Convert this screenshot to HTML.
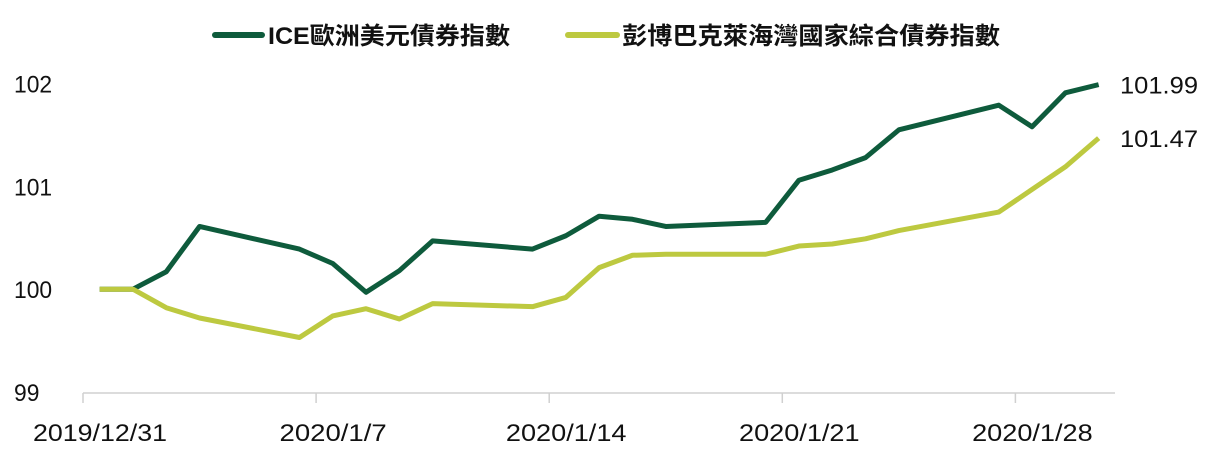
<!DOCTYPE html>
<html><head><meta charset="utf-8"><style>
body{margin:0;background:#fff;}
svg{display:block;font-family:"Liberation Sans","Noto Sans CJK TC",sans-serif;}
</style></head><body>
<svg id="chart" width="1212" height="454">
  <g>
    <line x1="215" y1="35" x2="262" y2="35" stroke="#0e5b3c" stroke-width="6" stroke-linecap="round"/>
    <text x="268" y="44" font-size="24" font-weight="bold" fill="#111" textLength="242" lengthAdjust="spacingAndGlyphs">ICE歐洲美元債券指數</text>
    <line x1="568" y1="35" x2="617" y2="35" stroke="#bdc940" stroke-width="6" stroke-linecap="round"/>
    <text x="622" y="44" font-size="24" font-weight="bold" fill="#111" textLength="378" lengthAdjust="spacingAndGlyphs">彭博巴克萊海灣國家綜合債券指數</text>
  </g>
  <g id="yaxis"></g>
  <g id="xaxis"></g>
  <g id="series"></g>
</svg>
<script>
const days = [0,1,2,3,6,7,8,9,10,13,14,15,16,17,20,21,22,23,24,27,28,29,30];
const iceValues = [100,100,100.17,100.61,100.39,100.25,99.97,100.18,100.47,100.39,100.52,100.71,100.68,100.61,100.65,101.06,101.16,101.28,101.55,101.79,101.58,101.91,101.99];
const gccValues = [100,100,99.82,99.72,99.53,99.74,99.81,99.71,99.86,99.83,99.92,100.21,100.33,100.34,100.34,100.42,100.44,100.49,100.57,100.75,100.97,101.19,101.47];
const yTicks = [99,100,101,102];
const xTickDays = [0,7,14,21,28];
const xTickLabels = ["2019/12/31","2020/1/7","2020/1/14","2020/1/21","2020/1/28"];
const endLabels = ["101.99","101.47"];

const NS="http://www.w3.org/2000/svg";
const x0=83, dayW=33.3;
const xTick = d => x0 + d*dayW;
const xPt = d => x0 + (d+0.5)*dayW;
const y = v => 392 - (v-99)*102.8;
function mk(tag, attrs, parent){const e=document.createElementNS(NS,tag);for(const k in attrs)e.setAttribute(k,attrs[k]);parent.appendChild(e);return e;}

const ya=document.getElementById('yaxis');
yTicks.forEach(v=>{
  const s=String(v);
  const t=mk('text',{x:14,y:y(v)+9,'font-size':24,fill:'#111',textLength:s.length*12.7,lengthAdjust:'spacingAndGlyphs'},ya);
  t.textContent=s;
  
  
});
const xa=document.getElementById('xaxis');
const base=mk('line',{x1:x0,y1:393,x2:1115,y2:393,stroke:'#d0d0d0','stroke-width':1.5},xa);


xTickDays.forEach((d,i)=>{
  const tk=mk('line',{x1:xTick(d),y1:393,x2:xTick(d),y2:403,stroke:'#d0d0d0','stroke-width':1.5},xa);
  
  
  const t=mk('text',{x:xTick(d)+17,y:441,'font-size':24,fill:'#111','text-anchor':'middle',textLength:xTickLabels[i].length*13.4,lengthAdjust:'spacingAndGlyphs'},xa);
  t.textContent=xTickLabels[i];
  
  
});
const sg=document.getElementById('series');
function line(vals,color,name){
  const p=mk('polyline',{points:vals.map((v,i)=>xPt(days[i])+','+y(v)).join(' '),fill:'none',stroke:color,'stroke-width':5,'stroke-linejoin':'round'},sg);
  
  
}
line(iceValues,'#0e5b3c','line-ice-euro-dollar');
line(gccValues,'#bdc940','line-bloomberg-gcc');
[[iceValues,endLabels[0]],[gccValues,endLabels[1]]].forEach(([vals,lab])=>{
  const t=mk('text',{x:1120,y:y(vals[vals.length-1])+9,'font-size':24,fill:'#111',textLength:78,lengthAdjust:'spacingAndGlyphs'},sg);
  t.textContent=lab;
  
  
});
</script>
</body></html>
